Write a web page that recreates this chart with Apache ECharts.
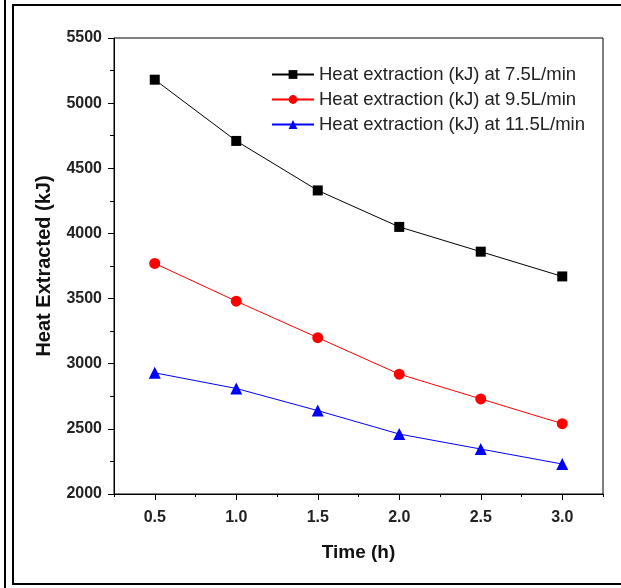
<!DOCTYPE html>
<html>
<head>
<meta charset="utf-8">
<script src="https://cdn.jsdelivr.net/npm/echarts@6/dist/echarts.min.js"></script>
<style>
  html, body { margin: 0; padding: 0; background: #fff; }
  #main { width: 621px; height: 588px; }
</style>
</head>
<body>
<div id="main"></div>
<script>
// data
var times = [0.5, 1.0, 1.5, 2.0, 2.5, 3.0];
var heat75 = [5180, 4710, 4330, 4050, 3860, 3670];
var heat95 = [3770, 3480, 3200, 2920, 2730, 2540];
var heat115 = [2930, 2810, 2640, 2460, 2345, 2230];
var xTickLabels = [0.5, 1.0, 1.5, 2.0, 2.5, 3.0];
var seriesNames = [
    'Heat extraction (kJ) at 7.5L/min',
    'Heat extraction (kJ) at 9.5L/min',
    'Heat extraction (kJ) at 11.5L/min'
];

function pairs(ys) {
    var out = [];
    for (var i = 0; i < times.length; i++) out.push([times[i], ys[i]]);
    return out;
}

var tickFont = 'Liberation Sans Narrow, Liberation Sans, Arial';

var chart = echarts.init(document.getElementById('main'));
var option = {
    animation: false,
    backgroundColor: '#fff',
    graphic: [
        { type: 'line', shape: { x1: 5, y1: 0, x2: 5, y2: 588 }, style: { stroke: '#000', lineWidth: 2 } },
        { type: 'polyline', shape: { points: [[640, 5], [13, 5], [13, 584], [640, 584]] }, style: { fill: 'none', stroke: '#000', lineWidth: 2 } }
    ],
    grid: {
        left: 114, top: 38, width: 489, height: 456,
        show: true, borderColor: '#000', borderWidth: 1, backgroundColor: 'transparent'
    },
    legend: {
        orient: 'vertical',
        left: 266, top: 60,
        itemWidth: 42, itemHeight: 11, itemGap: 6,
        textStyle: { fontFamily: 'Liberation Sans, Arial', fontSize: 18.5, color: '#222' },
        data: seriesNames
    },
    xAxis: [{
        type: 'value',
        min: 0.25, max: 3.25,
        name: 'Time (h)',
        nameLocation: 'middle',
        nameGap: 49,
        nameTextStyle: { fontFamily: 'Liberation Sans, Arial', fontWeight: 'bold', fontSize: 19, color: '#111' },
        axisLine: { show: true, lineStyle: { color: '#000', width: 1 } },
        axisTick: { show: true, inside: false, length: 6, customValues: xTickLabels, lineStyle: { color: '#000' } },
        axisLabel: {
            customValues: xTickLabels,
            margin: 16,
            fontFamily: tickFont, fontWeight: 'bold', fontSize: 16, color: '#222',
            formatter: function (v) { return v.toFixed(1); }
        },
        splitLine: { show: false }
    }, {
        // minor ticks between the labelled ones
        type: 'value',
        position: 'bottom',
        min: 0.25, max: 3.25, interval: 0.5,
        axisLine: { show: false },
        axisTick: { show: true, length: 3, lineStyle: { color: '#000' } },
        axisLabel: { show: false },
        splitLine: { show: false }
    }],
    yAxis: {
        type: 'value',
        min: 2000, max: 5500, interval: 500,
        name: 'Heat Extracted (kJ)',
        nameLocation: 'middle',
        nameGap: 60,
        nameTextStyle: { fontFamily: 'Liberation Sans, Arial', fontWeight: 'bold', fontSize: 20, color: '#111' },
        axisLine: { show: true, lineStyle: { color: '#000', width: 1 } },
        axisTick: { show: true, length: 6, lineStyle: { color: '#000' } },
        minorTick: { show: true, splitNumber: 2, length: 4, lineStyle: { color: '#000' } },
        axisLabel: {
            margin: 12, fontFamily: tickFont, fontWeight: 'bold', fontSize: 16, color: '#222',
            formatter: function (v) { return String(v); }
        },
        splitLine: { show: false }
    },
    series: [{
        name: seriesNames[0],
        type: 'line',
        data: pairs(heat75),
        symbol: 'rect', symbolSize: 10,
        itemStyle: { color: '#000' },
        lineStyle: { color: '#000', width: 1 }
    }, {
        name: seriesNames[1],
        type: 'line',
        data: pairs(heat95),
        symbol: 'circle', symbolSize: 11,
        itemStyle: { color: '#ff0000' },
        lineStyle: { color: '#ff0000', width: 1 }
    }, {
        name: seriesNames[2],
        type: 'line',
        data: pairs(heat115),
        symbol: 'triangle', symbolSize: 12,
        itemStyle: { color: '#0000ff' },
        lineStyle: { color: '#0000ff', width: 1 }
    }]
};
chart.setOption(option);
</script>
</body>
</html>
